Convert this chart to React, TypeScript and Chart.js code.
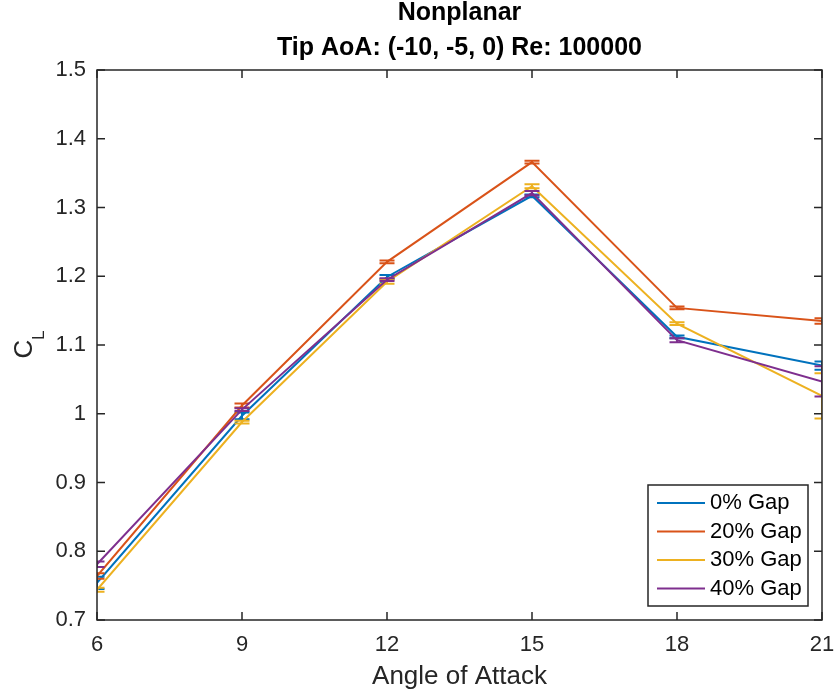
import { useEffect, useRef } from 'react';
import { Chart, registerables } from 'chart.js';

Chart.register(...registerables);

// Angle of attack (deg) and lift coefficient per gap setting
const angles = [6, 9, 12, 15, 18, 21];
const clGap0 = [0.754, 0.997, 1.199, 1.317, 1.112, 1.070];
const clGap20 = [0.764, 1.012, 1.221, 1.366, 1.154, 1.135];
const clGap30 = [0.744, 0.988, 1.192, 1.331, 1.131, 1.026];
const clGap40 = [0.781, 1.006, 1.195, 1.321, 1.107, 1.047];

// Half-width of the error bars
const errGap0 = [0.009, 0.005, 0.003, 0.002, 0.002, 0.006];
const errGap20 = [0.004, 0.003, 0.002, 0.002, 0.002, 0.004];
const errGap30 = [0.003, 0.002, 0.003, 0.003, 0.002, 0.033];
const errGap40 = [0.004, 0.002, 0.002, 0.003, 0.003, 0.022];

const seriesLabels = ['0% Gap', '20% Gap', '30% Gap', '40% Gap'];
const seriesColors = ['#0072BD', '#D95319', '#EDB120', '#7E2F8E'];

const xTicks = [6, 9, 12, 15, 18, 21];
const yTicks = [0.7, 0.8, 0.9, 1.0, 1.1, 1.2, 1.3, 1.4, 1.5];

const titleLines = ['Nonplanar', 'Tip AoA: (-10, -5, 0) Re: 100000'];
const xLabel = 'Angle of Attack';
const yLabelMain = 'C';
const yLabelSub = 'L';

const FONT = "'Liberation Sans', Arial, Helvetica, sans-serif";
const AXIS_COLOR = '#262626';

const seriesValues = [clGap0, clGap20, clGap30, clGap40];
const seriesErrors = [errGap0, errGap20, errGap30, errGap40];

const axesPlugin = {
  id: 'matlabAxes',
  afterDatasetDraw(chart: any, args: any) {
    const i = args.index;
    const errs = seriesErrors[i];
    const vals = seriesValues[i];
    if (!errs) return;
    const { ctx, chartArea: ca } = chart;
    const xs = chart.scales.x;
    const ys = chart.scales.y;
    ctx.save();
    ctx.beginPath();
    ctx.rect(ca.left, ca.top, ca.right - ca.left, ca.bottom - ca.top);
    ctx.clip();
    ctx.strokeStyle = seriesColors[i];
    ctx.lineWidth = 2;
    const half = 7.5;
    angles.forEach((a, k) => {
      const px = xs.getPixelForValue(a);
      const top = ys.getPixelForValue(vals[k] + errs[k]);
      const bot = ys.getPixelForValue(vals[k] - errs[k]);
      ctx.beginPath();
      ctx.moveTo(px, top);
      ctx.lineTo(px, bot);
      ctx.moveTo(px - half, top);
      ctx.lineTo(px + half, top);
      ctx.moveTo(px - half, bot);
      ctx.lineTo(px + half, bot);
      ctx.stroke();
    });
    ctx.restore();
  },
  afterDraw(chart: any) {
    const { ctx, chartArea: ca } = chart;
    const xs = chart.scales.x;
    const ys = chart.scales.y;
    const tickLen = 8;
    ctx.save();

    // axes box with inward ticks on all four sides
    ctx.strokeStyle = AXIS_COLOR;
    ctx.lineWidth = 1.5;
    ctx.strokeRect(ca.left, ca.top, ca.right - ca.left, ca.bottom - ca.top);
    ctx.beginPath();
    xTicks.forEach((v) => {
      const px = xs.getPixelForValue(v);
      ctx.moveTo(px, ca.bottom);
      ctx.lineTo(px, ca.bottom - tickLen);
      ctx.moveTo(px, ca.top);
      ctx.lineTo(px, ca.top + tickLen);
    });
    yTicks.forEach((v) => {
      const py = ys.getPixelForValue(v);
      ctx.moveTo(ca.left, py);
      ctx.lineTo(ca.left + tickLen, py);
      ctx.moveTo(ca.right, py);
      ctx.lineTo(ca.right - tickLen, py);
    });
    ctx.stroke();

    // title
    const cx = (ca.left + ca.right) / 2;
    ctx.fillStyle = '#000000';
    ctx.font = `bold 25px ${FONT}`;
    ctx.textAlign = 'center';
    ctx.textBaseline = 'middle';
    ctx.fillText(titleLines[0], cx, ca.top - 57);
    ctx.fillText(titleLines[1], cx, ca.top - 22);

    // y-axis label with subscript
    ctx.save();
    ctx.translate(23, (ca.top + ca.bottom) / 2 + 4);
    ctx.rotate(-Math.PI / 2);
    ctx.fillStyle = AXIS_COLOR;
    ctx.textBaseline = 'alphabetic';
    ctx.textAlign = 'center';
    ctx.font = `26px ${FONT}`;
    ctx.fillText(yLabelMain, 0, 9);
    ctx.textAlign = 'left';
    ctx.font = `17px ${FONT}`;
    ctx.fillText(yLabelSub, 9, 21);
    ctx.restore();

    // legend
    const lw = 160;
    const lh = 121;
    const lx = ca.right - 14 - lw;
    const ly = ca.bottom - 14 - lh;
    ctx.fillStyle = '#ffffff';
    ctx.fillRect(lx, ly, lw, lh);
    ctx.strokeStyle = AXIS_COLOR;
    ctx.lineWidth = 1.5;
    ctx.strokeRect(lx, ly, lw, lh);
    ctx.font = `22px ${FONT}`;
    ctx.textAlign = 'left';
    ctx.textBaseline = 'middle';
    seriesLabels.forEach((label, i) => {
      const ry = ly + 18 + i * 28.5;
      ctx.strokeStyle = seriesColors[i];
      ctx.lineWidth = 2;
      ctx.beginPath();
      ctx.moveTo(lx + 9, ry);
      ctx.lineTo(lx + 57, ry);
      ctx.stroke();
      ctx.fillStyle = '#000000';
      ctx.fillText(label, lx + 62, ry);
    });

    ctx.restore();
  },
};

export default function App() {
  const canvasRef = useRef<HTMLCanvasElement | null>(null);

  useEffect(() => {
    const canvas = canvasRef.current;
    if (!canvas) return;
    const chart = new Chart(canvas, {
      type: 'line',
      data: {
        datasets: seriesLabels.map((label, i) => ({
          label,
          data: angles.map((a, k) => ({ x: a, y: seriesValues[i][k] })),
          borderColor: seriesColors[i],
          backgroundColor: seriesColors[i],
          borderWidth: 2,
          pointRadius: 0,
          tension: 0,
          fill: false,
          order: seriesLabels.length - 1 - i,
        })),
      },
      options: {
        animation: false,
        responsive: false,
        devicePixelRatio: 1,
        layout: { padding: { top: 70, right: 13, left: 0, bottom: 0 } },
        plugins: {
          legend: { display: false },
          title: { display: false },
          tooltip: { enabled: false },
        },
        scales: {
          x: {
            type: 'linear',
            min: 6,
            max: 21,
            grid: { display: false, drawTicks: false },
            border: { display: false },
            afterBuildTicks: (scale: any) => {
              scale.ticks = xTicks.map((v) => ({ value: v }));
            },
            afterFit: (scale: any) => {
              scale.height = 76;
              scale.paddingLeft = 0;
              scale.paddingRight = 0;
            },
            ticks: {
              color: AXIS_COLOR,
              font: { family: FONT, size: 22 },
              padding: 12,
              maxRotation: 0,
              callback: (v: any) => String(v),
            },
            title: {
              display: true,
              text: xLabel,
              color: AXIS_COLOR,
              font: { family: FONT, size: 26 },
              padding: { top: 0, bottom: 4 },
            },
          },
          y: {
            type: 'linear',
            min: 0.7,
            max: 1.5,
            grid: { display: false, drawTicks: false },
            border: { display: false },
            afterBuildTicks: (scale: any) => {
              scale.ticks = yTicks.map((v) => ({ value: v }));
            },
            afterFit: (scale: any) => {
              scale.width = 97;
              scale.paddingTop = 0;
              scale.paddingBottom = 0;
            },
            ticks: {
              color: AXIS_COLOR,
              font: { family: FONT, size: 22 },
              padding: 11,
              callback: (v: any) => String(Number(Number(v).toFixed(1))),
            },
          },
        },
      },
      plugins: [axesPlugin],
    });
    return () => chart.destroy();
  }, []);

  return (
    <div style={{ position: 'fixed', left: 0, top: 0, width: 835, height: 696, background: '#ffffff' }}>
      <canvas ref={canvasRef} width={835} height={696} style={{ display: 'block' }} />
    </div>
  );
}
